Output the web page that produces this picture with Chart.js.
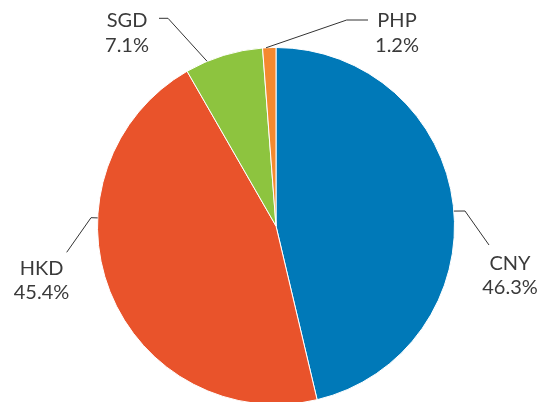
<!DOCTYPE html>
<html>
<head>
<meta charset="utf-8">
<script src="https://cdn.jsdelivr.net/npm/chart.js@4/dist/chart.umd.min.js"></script>
<style>
  html, body { margin: 0; padding: 0; background: #fff; overflow: hidden; }
  #wrap { width: 545px; height: 402px; overflow: hidden; position: relative; }
  canvas { display: block; }
</style>
</head>
<body>
<div id="wrap"><canvas id="c" width="545" height="410"></canvas></div>
<script>
// Data
const categories = ["CNY", "HKD", "SGD", "PHP"];
const shares = [46.3, 45.4, 7.1, 1.2];
const percentLabels = ["46.3%", "45.4%", "7.1%", "1.2%"];

// Styles
const sliceColors = ["#0079B8", "#E9532B", "#8DC43F", "#F4892F"];
const textColor = "#3a3a3a";

// Label layout (annotation placement, relative to pie centre, in px):
// anchor angle on the rim (deg clockwise from top), elbow point, end point, text centre x, first baseline y
const labelLayout = [
  { angle: 85.2,  pts: [[189, -15], [213, 19]],  tx: 234,  ty: 43.5 },
  { angle: 272.6, pts: [[-185, -8.3], [-209.3, 26.3]], tx: -234.5, ty: 48.5 },
  { angle: 337.3, pts: [[-108, -207.7], [-117, -207.7]], tx: -149, ty: -198.7 },
  { angle: 356.8, pts: [[70.7, -206], [92, -206]], tx: 121, ty: -198.7 }
];

const leaderPlugin = {
  id: 'leaders',
  afterDraw(chart) {
    const ctx = chart.ctx;
    const arc = chart.getDatasetMeta(0).data[0];
    const cx = arc.x, cy = arc.y, r = arc.outerRadius;
    ctx.save();
    ctx.strokeStyle = "#333";
    ctx.lineWidth = 1;
    ctx.fillStyle = textColor;
    ctx.font = "20px Lato";
    ctx.textAlign = "center";
    ctx.textBaseline = "alphabetic";
    labelLayout.forEach((L, i) => {
      const a = L.angle * Math.PI / 180;
      const ax = cx + r * Math.sin(a);
      const ay = cy - r * Math.cos(a);
      ctx.beginPath();
      ctx.moveTo(ax, ay);
      L.pts.forEach(p => ctx.lineTo(cx + p[0], cy + p[1]));
      ctx.stroke();
      ctx.fillText(categories[i], cx + L.tx, cy + L.ty);
      ctx.fillText(percentLabels[i], cx + L.tx, cy + L.ty + 24.5);
    });
    ctx.restore();
  }
};

new Chart(document.getElementById('c'), {
  type: 'pie',
  data: {
    labels: categories,
    datasets: [{
      data: shares,
      backgroundColor: sliceColors,
      borderColor: "#ffffff",
      borderWidth: 1
    }]
  },
  options: {
    responsive: false,
    animation: false,
    layout: { padding: { top: 47, bottom: 5, left: 7, right: 0 } },
    plugins: { legend: { display: false }, tooltip: { enabled: false } }
  },
  plugins: [leaderPlugin]
});
</script>
</body>
</html>
